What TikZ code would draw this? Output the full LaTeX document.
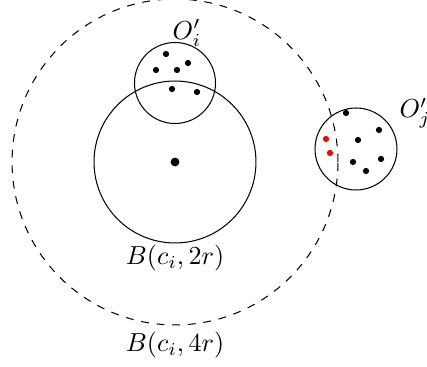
\documentclass[tikz,border=0pt]{standalone}
\usetikzlibrary{positioning}
\tikzset{
  ball/.style={draw,circle,inner sep=0pt},
  dot/.style={circle,fill,inner sep=0pt,minimum size=2.4pt},
  reddot/.style={dot,fill=red},
  lbl/.style={inner sep=0pt}
}

\begin{document}
\begin{tikzpicture}[x=0.0135cm,y=-0.0135cm]
\useasboundingbox (0,0) rectangle (427,367);

% balls around c_i
\node[ball,dashed,minimum size=4.401cm] (ball4) at (175,162) {};
\node[ball,minimum size=2.187cm] (ball2) at (175,162) {};
\node[dot,minimum size=3.4pt] (ci) at (175,162) {};

% neighbour clusters
\node[ball,minimum size=1.094cm] (Oi) at (175,83) {};
\node[ball,minimum size=1.107cm] (Oj) at (356,149) {};

\node[lbl] (Oilbl) at (187,33) {$O_i'$};
\node[lbl] (Ojlbl) at (415,113) {$O_j'$};
\node[lbl] (b2lbl) at (175,258) {$B(c_i,2r)$};
\node[lbl] (b4lbl) at (175,345) {$B(c_i,4r)$};

% points of O_i'
\foreach \p in {(166,54),(188,63),(156,70),(177,70),(172,89),(197,92)}
  \node[dot] at \p {};

% points of O_j'
\foreach \p in {(346,113),(379,130),(358,140),(353,162),(381,159),(366,171)}
  \node[dot] at \p {};
\node[reddot] (r1) at (326,139) {};
\node[reddot] (r2) at (330,153) {};
\end{tikzpicture}
\end{document}
